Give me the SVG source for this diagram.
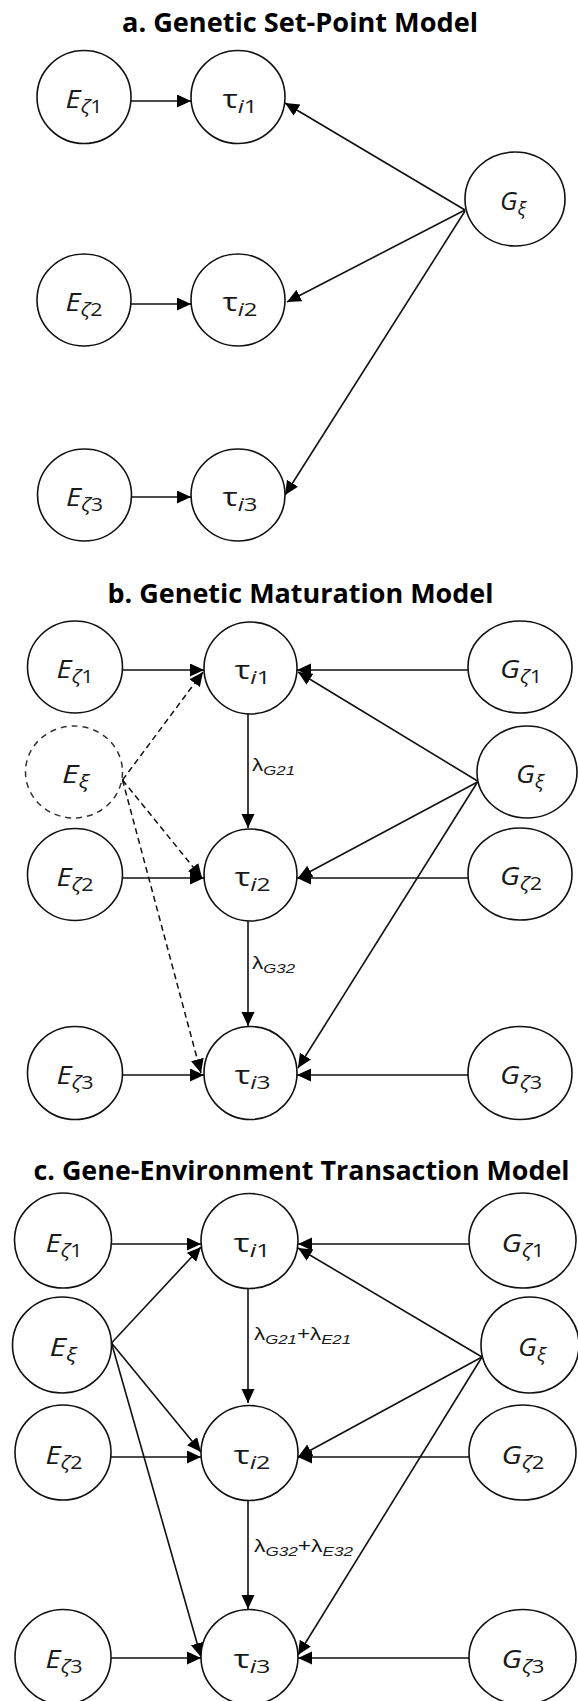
<svg xmlns="http://www.w3.org/2000/svg" width="578" height="1701" viewBox="0 0 578 1701">
  <style>
    .bg { fill: #ffffff; }
    .node { fill: #ffffff; stroke: #111; stroke-width: 1.6; }
    .latent { fill: #ffffff; stroke: #333; stroke-width: 1.5; stroke-dasharray: 6 5; }
    .edge { fill: none; stroke: #111; stroke-width: 1.6; }
    .dash { fill: none; stroke: #111; stroke-width: 1.5; stroke-dasharray: 6 4; }
    .title { font-family: "Open Sans", Lato, sans-serif; font-weight: bold; font-size: 27px; fill: #000; text-anchor: middle; font-variant-ligatures: none; }
    .nl { font-family: "Open Sans", "DejaVu Sans", sans-serif; font-size: 25px; fill: #1a1a1a; text-anchor: middle; }
    .it { font-style: italic; }
    .sb { font-size: 18.5px; font-style: italic; }
    .sbu { font-size: 18.5px; font-style: normal; }
    .lam { font-family: "Liberation Sans", Arial, sans-serif; font-size: 18px; fill: #1a1a1a; }
    .ls { font-size: 13.5px; font-style: italic; }
  </style>
  <defs>
    <marker id="arrow" markerUnits="userSpaceOnUse" markerWidth="15" markerHeight="14" refX="14" refY="6.5" orient="auto">
      <path d="M0,0 L14,6.5 L0,13 z" fill="#000"/>
    </marker>
  </defs>
  <rect class="bg" x="0" y="0" width="578" height="1701"/>

  <!-- ===== a. Genetic Set-Point Model ===== -->
  <text class="title" x="300" y="32" textLength="356" lengthAdjust="spacingAndGlyphs">a. Genetic Set-Point Model</text>

  <g id="connectors-a">
    <line class="edge" x1="131" y1="101" x2="191" y2="101" marker-end="url(#arrow)"/>
    <line class="edge" x1="131" y1="304" x2="191" y2="304" marker-end="url(#arrow)"/>
    <line class="edge" x1="131" y1="497" x2="191" y2="497" marker-end="url(#arrow)"/>
    <line class="edge" x1="465" y1="210" x2="285" y2="103" marker-end="url(#arrow)"/>
    <line class="edge" x1="465" y1="210" x2="287" y2="302" marker-end="url(#arrow)"/>
    <line class="edge" x1="465" y1="211" x2="285" y2="495" marker-end="url(#arrow)"/>
  </g>

  <g id="a-E1"><ellipse class="node" cx="84" cy="97" rx="47" ry="46.5"/>
    <text class="nl" x="84" y="108" textLength="37" lengthAdjust="spacingAndGlyphs"><tspan class="it">E</tspan><tspan class="sb" dy="5">ζ</tspan><tspan class="sbu">1</tspan></text></g>
  <g id="a-T1"><ellipse class="node" cx="238" cy="97" rx="47" ry="46.5"/>
    <text class="nl" x="240" y="108" textLength="35" lengthAdjust="spacingAndGlyphs">τ<tspan class="sb" dy="5">i</tspan><tspan class="sbu">1</tspan></text></g>
  <g id="a-G"><ellipse class="node" cx="515" cy="199" rx="50" ry="47"/>
    <text class="nl" x="513" y="210" textLength="26" lengthAdjust="spacingAndGlyphs"><tspan class="it">G</tspan><tspan class="sb" dy="5">ξ</tspan></text></g>
  <g id="a-E2"><ellipse class="node" cx="84" cy="300" rx="47" ry="46"/>
    <text class="nl" x="84" y="311" textLength="37" lengthAdjust="spacingAndGlyphs"><tspan class="it">E</tspan><tspan class="sb" dy="5">ζ</tspan><tspan class="sbu">2</tspan></text></g>
  <g id="a-T2"><ellipse class="node" cx="238" cy="300" rx="47" ry="46"/>
    <text class="nl" x="240" y="311" textLength="35" lengthAdjust="spacingAndGlyphs">τ<tspan class="sb" dy="5">i</tspan><tspan class="sbu">2</tspan></text></g>
  <g id="a-E3"><ellipse class="node" cx="84.5" cy="495" rx="47" ry="46"/>
    <text class="nl" x="84.5" y="506" textLength="37" lengthAdjust="spacingAndGlyphs"><tspan class="it">E</tspan><tspan class="sb" dy="5">ζ</tspan><tspan class="sbu">3</tspan></text></g>
  <g id="a-T3"><ellipse class="node" cx="238" cy="495" rx="47" ry="46"/>
    <text class="nl" x="240" y="506" textLength="35" lengthAdjust="spacingAndGlyphs">τ<tspan class="sb" dy="5">i</tspan><tspan class="sbu">3</tspan></text></g>

  <!-- ===== b. Genetic Maturation Model ===== -->
  <text class="title" x="300.5" y="603" textLength="386" lengthAdjust="spacingAndGlyphs">b. Genetic Maturation Model</text>

  <g id="connectors-b">
    <line class="edge" x1="123" y1="670" x2="204" y2="670" marker-end="url(#arrow)"/>
    <line class="edge" x1="468" y1="670" x2="297" y2="670" marker-end="url(#arrow)"/>
    <line class="edge" x1="477.5" y1="781" x2="298" y2="672" marker-end="url(#arrow)"/>
    <line class="edge" x1="248" y1="714" x2="248" y2="828" marker-end="url(#arrow)"/>
    <line class="dash" x1="122.5" y1="780" x2="203" y2="672" marker-end="url(#arrow)"/>
    <line class="dash" x1="122.5" y1="780" x2="202" y2="878" marker-end="url(#arrow)"/>
    <line class="dash" x1="122.5" y1="780" x2="201" y2="1073" marker-end="url(#arrow)"/>
    <line class="edge" x1="123" y1="878" x2="204" y2="878" marker-end="url(#arrow)"/>
    <line class="edge" x1="468" y1="878" x2="297" y2="878" marker-end="url(#arrow)"/>
    <line class="edge" x1="477.5" y1="782" x2="298" y2="878" marker-end="url(#arrow)"/>
    <line class="edge" x1="477.5" y1="782" x2="298" y2="1068" marker-end="url(#arrow)"/>
    <line class="edge" x1="248" y1="921" x2="248" y2="1026" marker-end="url(#arrow)"/>
    <line class="edge" x1="123" y1="1075" x2="204" y2="1075" marker-end="url(#arrow)"/>
    <line class="edge" x1="468" y1="1075" x2="297" y2="1075" marker-end="url(#arrow)"/>
    <text class="lam" x="252" y="771" textLength="43" lengthAdjust="spacingAndGlyphs">λ<tspan class="ls" dy="4">G21</tspan></text>
    <text class="lam" x="252" y="969" textLength="43" lengthAdjust="spacingAndGlyphs">λ<tspan class="ls" dy="4">G32</tspan></text>
  </g>

  <g id="b-E1"><ellipse class="node" cx="75" cy="667" rx="47.5" ry="46"/>
    <text class="nl" x="75" y="678" textLength="37" lengthAdjust="spacingAndGlyphs"><tspan class="it">E</tspan><tspan class="sb" dy="5">ζ</tspan><tspan class="sbu">1</tspan></text></g>
  <g id="b-T1"><ellipse class="node" cx="250.5" cy="668" rx="46.5" ry="46"/>
    <text class="nl" x="252.5" y="679" textLength="36" lengthAdjust="spacingAndGlyphs">τ<tspan class="sb" dy="5">i</tspan><tspan class="sbu">1</tspan></text></g>
  <g id="b-G1"><ellipse class="node" cx="520" cy="667" rx="52" ry="46"/>
    <text class="nl" x="521" y="678" textLength="42" lengthAdjust="spacingAndGlyphs"><tspan class="it">G</tspan><tspan class="sb" dy="5">ζ</tspan><tspan class="sbu">1</tspan></text></g>
  <g id="b-Ex"><ellipse class="latent" cx="74" cy="772" rx="48.5" ry="46"/>
    <text class="nl" x="75.5" y="783" textLength="27" lengthAdjust="spacingAndGlyphs"><tspan class="it">E</tspan><tspan class="sb" dy="5">ξ</tspan></text></g>
  <g id="b-Gx"><ellipse class="node" cx="527" cy="772" rx="50" ry="46"/>
    <text class="nl" x="530" y="783" textLength="28" lengthAdjust="spacingAndGlyphs"><tspan class="it">G</tspan><tspan class="sb" dy="5">ξ</tspan></text></g>
  <g id="b-E2"><ellipse class="node" cx="75" cy="874.5" rx="47.5" ry="46"/>
    <text class="nl" x="75" y="885.5" textLength="37" lengthAdjust="spacingAndGlyphs"><tspan class="it">E</tspan><tspan class="sb" dy="5">ζ</tspan><tspan class="sbu">2</tspan></text></g>
  <g id="b-T2"><ellipse class="node" cx="250.5" cy="875" rx="46.5" ry="46"/>
    <text class="nl" x="252.5" y="886" textLength="36" lengthAdjust="spacingAndGlyphs">τ<tspan class="sb" dy="5">i</tspan><tspan class="sbu">2</tspan></text></g>
  <g id="b-G2"><ellipse class="node" cx="520" cy="874" rx="52" ry="46"/>
    <text class="nl" x="521" y="885" textLength="42" lengthAdjust="spacingAndGlyphs"><tspan class="it">G</tspan><tspan class="sb" dy="5">ζ</tspan><tspan class="sbu">2</tspan></text></g>
  <g id="b-E3"><ellipse class="node" cx="75" cy="1073" rx="47.5" ry="46.5"/>
    <text class="nl" x="75" y="1084" textLength="37" lengthAdjust="spacingAndGlyphs"><tspan class="it">E</tspan><tspan class="sb" dy="5">ζ</tspan><tspan class="sbu">3</tspan></text></g>
  <g id="b-T3"><ellipse class="node" cx="250.5" cy="1073" rx="46.5" ry="46.5"/>
    <text class="nl" x="252.5" y="1084" textLength="36" lengthAdjust="spacingAndGlyphs">τ<tspan class="sb" dy="5">i</tspan><tspan class="sbu">3</tspan></text></g>
  <g id="b-G3"><ellipse class="node" cx="520" cy="1073" rx="52" ry="46.5"/>
    <text class="nl" x="521" y="1084" textLength="42" lengthAdjust="spacingAndGlyphs"><tspan class="it">G</tspan><tspan class="sb" dy="5">ζ</tspan><tspan class="sbu">3</tspan></text></g>

  <!-- ===== c. Gene-Environment Transaction Model ===== -->
  <text class="title" x="301.5" y="1180" textLength="536" lengthAdjust="spacingAndGlyphs">c. Gene-Environment Transaction Model</text>

  <g id="connectors-c">
    <line class="edge" x1="111.5" y1="1244" x2="201" y2="1244" marker-end="url(#arrow)"/>
    <line class="edge" x1="469" y1="1244" x2="298" y2="1244" marker-end="url(#arrow)"/>
    <line class="edge" x1="111.5" y1="1343" x2="201" y2="1247" marker-end="url(#arrow)"/>
    <line class="edge" x1="482" y1="1357" x2="298" y2="1248" marker-end="url(#arrow)"/>
    <line class="edge" x1="248" y1="1288" x2="248" y2="1403" marker-end="url(#arrow)"/>
    <line class="edge" x1="111.5" y1="1343" x2="201" y2="1452" marker-end="url(#arrow)"/>
    <line class="edge" x1="111.5" y1="1343" x2="201" y2="1657" marker-end="url(#arrow)"/>
    <line class="edge" x1="482" y1="1357" x2="298" y2="1457" marker-end="url(#arrow)"/>
    <line class="edge" x1="482" y1="1357" x2="298" y2="1655" marker-end="url(#arrow)"/>
    <line class="edge" x1="110.5" y1="1457" x2="201" y2="1457" marker-end="url(#arrow)"/>
    <line class="edge" x1="469" y1="1457" x2="298" y2="1457" marker-end="url(#arrow)"/>
    <line class="edge" x1="248" y1="1500" x2="248" y2="1609" marker-end="url(#arrow)"/>
    <line class="edge" x1="110.5" y1="1658" x2="201" y2="1658" marker-end="url(#arrow)"/>
    <line class="edge" x1="469" y1="1658" x2="298" y2="1658" marker-end="url(#arrow)"/>
    <text class="lam" x="254" y="1340" textLength="97" lengthAdjust="spacingAndGlyphs">λ<tspan class="ls" dy="4">G21</tspan><tspan dy="-4">+λ</tspan><tspan class="ls" dy="4">E21</tspan></text>
    <text class="lam" x="254" y="1552" textLength="99" lengthAdjust="spacingAndGlyphs">λ<tspan class="ls" dy="4">G32</tspan><tspan dy="-4">+λ</tspan><tspan class="ls" dy="4">E32</tspan></text>
  </g>

  <g id="c-E1"><ellipse class="node" cx="63" cy="1240.5" rx="48.5" ry="47.5"/>
    <text class="nl" x="64" y="1252" textLength="37" lengthAdjust="spacingAndGlyphs"><tspan class="it">E</tspan><tspan class="sb" dy="5">ζ</tspan><tspan class="sbu">1</tspan></text></g>
  <g id="c-T1"><ellipse class="node" cx="249.5" cy="1241" rx="48.5" ry="47.5"/>
    <text class="nl" x="252" y="1252" textLength="37" lengthAdjust="spacingAndGlyphs">τ<tspan class="sb" dy="5">i</tspan><tspan class="sbu">1</tspan></text></g>
  <g id="c-G1"><ellipse class="node" cx="522.5" cy="1240.5" rx="53.5" ry="47.5"/>
    <text class="nl" x="523" y="1252" textLength="43" lengthAdjust="spacingAndGlyphs"><tspan class="it">G</tspan><tspan class="sb" dy="5">ζ</tspan><tspan class="sbu">1</tspan></text></g>
  <g id="c-Ex"><ellipse class="node" cx="62" cy="1345" rx="49.5" ry="48"/>
    <text class="nl" x="63" y="1356" textLength="27" lengthAdjust="spacingAndGlyphs"><tspan class="it">E</tspan><tspan class="sb" dy="5">ξ</tspan></text></g>
  <g id="c-Gx"><ellipse class="node" cx="530" cy="1345" rx="49" ry="48"/>
    <text class="nl" x="532" y="1356" textLength="28" lengthAdjust="spacingAndGlyphs"><tspan class="it">G</tspan><tspan class="sb" dy="5">ξ</tspan></text></g>
  <g id="c-E2"><ellipse class="node" cx="63" cy="1452.5" rx="48" ry="47.5"/>
    <text class="nl" x="64" y="1464" textLength="37" lengthAdjust="spacingAndGlyphs"><tspan class="it">E</tspan><tspan class="sb" dy="5">ζ</tspan><tspan class="sbu">2</tspan></text></g>
  <g id="c-T2"><ellipse class="node" cx="249.5" cy="1453" rx="48.5" ry="47.5"/>
    <text class="nl" x="252" y="1464" textLength="37" lengthAdjust="spacingAndGlyphs">τ<tspan class="sb" dy="5">i</tspan><tspan class="sbu">2</tspan></text></g>
  <g id="c-G2"><ellipse class="node" cx="522.5" cy="1452.5" rx="53.5" ry="47.5"/>
    <text class="nl" x="523" y="1464" textLength="43" lengthAdjust="spacingAndGlyphs"><tspan class="it">G</tspan><tspan class="sb" dy="5">ζ</tspan><tspan class="sbu">2</tspan></text></g>
  <g id="c-E3"><ellipse class="node" cx="63" cy="1657" rx="48" ry="47.5"/>
    <text class="nl" x="64" y="1668" textLength="37" lengthAdjust="spacingAndGlyphs"><tspan class="it">E</tspan><tspan class="sb" dy="5">ζ</tspan><tspan class="sbu">3</tspan></text></g>
  <g id="c-T3"><ellipse class="node" cx="249.5" cy="1657" rx="48.5" ry="47.5"/>
    <text class="nl" x="252" y="1668" textLength="37" lengthAdjust="spacingAndGlyphs">τ<tspan class="sb" dy="5">i</tspan><tspan class="sbu">3</tspan></text></g>
  <g id="c-G3"><ellipse class="node" cx="522.5" cy="1657" rx="53.5" ry="47.5"/>
    <text class="nl" x="523" y="1668" textLength="43" lengthAdjust="spacingAndGlyphs"><tspan class="it">G</tspan><tspan class="sb" dy="5">ζ</tspan><tspan class="sbu">3</tspan></text></g>
</svg>
